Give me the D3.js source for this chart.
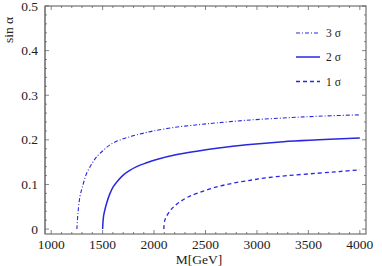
<!DOCTYPE html>
<html><head><meta charset="utf-8">
<script src="https://cdn.jsdelivr.net/npm/d3@7"></script>
<style>body{margin:0;background:#fff}svg{display:block}text{font-family:"Liberation Serif","DejaVu Serif",serif}</style>
</head><body>
<svg id="c" width="382" height="266"></svg>
<script>
const xTicks = [1000,1500,2000,2500,3000,3500,4000];
const yTicks = [0,0.1,0.2,0.3,0.4,0.5];
const yTickLabels = ["0","0.1","0.2","0.3","0.4","0.5"];
const seriesNames = ["3 σ","2 σ","1 σ"];
const sigma3 = [[1250,0],[1260,0.035],[1280,0.073],[1310,0.100],[1345,0.125],[1400,0.148],[1442,0.162],[1500,0.175],[1572,0.189],[1660,0.199],[1766,0.207],[1880,0.214],[1992,0.220],[2200,0.228],[2430,0.234],[2609,0.238],[2900,0.244],[3256,0.249],[3600,0.253],[4000,0.256]];
const sigma2 = [[1500,0],[1510,0.030],[1539,0.058],[1570,0.079],[1604,0.095],[1650,0.109],[1700,0.121],[1760,0.131],[1831,0.140],[1920,0.148],[2025,0.156],[2200,0.166],[2430,0.175],[2609,0.181],[2900,0.189],[3256,0.196],[3600,0.200],[4000,0.204]];
const sigma1 = [[2095,0],[2105,0.020],[2155,0.041],[2200,0.052],[2252,0.061],[2330,0.072],[2440,0.082],[2600,0.094],[2770,0.103],[2950,0.110],[3094,0.115],[3300,0.120],[3580,0.125],[3800,0.129],[4000,0.133]];

const svg = d3.select("#c");
const L=45,R=366,T=6,B=234;
const x = d3.scaleLinear().domain([940,4060]).range([L,R]);
const y = d3.scaleLinear().domain([-0.011,0.5]).range([B,T]);
const frameCol="#555";

// frame
svg.append("rect").attr("x",L).attr("y",T).attr("width",R-L).attr("height",B-T)
  .attr("fill","none").attr("stroke",frameCol).attr("stroke-width",1);
svg.append("line").attr("x1",L).attr("x2",L).attr("y1",T).attr("y2",B).attr("stroke","#888").attr("stroke-width",1.6);

// ticks
const g = svg.append("g").attr("stroke",frameCol).attr("stroke-width",0.7);
const xMinor = d3.range(1000,4001,100);
xMinor.forEach(v=>{
  const major = v%500===0; const len = major?4:2;
  g.append("line").attr("x1",x(v)).attr("x2",x(v)).attr("y1",B).attr("y2",B-len);
  g.append("line").attr("x1",x(v)).attr("x2",x(v)).attr("y1",T).attr("y2",T+len);
});
const yMinor = d3.range(0,51,2).map(d=>d/100);
yMinor.forEach((v,i)=>{
  const major = i%5===0; const len = major?4:2;
  g.append("line").attr("x1",L).attr("x2",L+len).attr("y1",y(v)).attr("y2",y(v));
  g.append("line").attr("x1",R).attr("x2",R-len).attr("y1",y(v)).attr("y2",y(v));
});

// tick labels
const fs=13.5;
svg.selectAll(".xl").data(xTicks).enter().append("text")
  .attr("x",d=>x(d)).attr("y",249).attr("text-anchor","middle").attr("font-size",fs).attr("fill","#222").text(d=>d);
svg.selectAll(".yl").data(yTicks).enter().append("text")
  .attr("x",38).attr("y",d=>y(d)+4.5).attr("text-anchor","end").attr("font-size",fs).attr("fill","#222").text((d,i)=>yTickLabels[i]);

svg.append("text").attr("x",199).attr("y",264).attr("text-anchor","middle").attr("font-size",fs).attr("fill","#222").text("M[GeV]");
svg.append("text").attr("transform","translate(13,30) rotate(-90)").attr("text-anchor","middle").attr("font-size",fs).attr("fill","#222").text("sin α");

// curves
const blue="#2828e0";
const line = d3.line().x(d=>x(d[0])).y(d=>y(d[1])).curve(d3.curveCatmullRom.alpha(0.5));
const styles=[{data:sigma3,dash:"4,2,1,2",w:1.1},{data:sigma2,dash:null,w:1.5},{data:sigma1,dash:"4,3",w:1.3}];
styles.forEach(s=>{
  svg.append("path").attr("d",line(s.data)).attr("fill","none").attr("stroke",blue)
    .attr("stroke-width",s.w).attr("stroke-dasharray",s.dash);
});

// legend
const ly=[33,57,81.5];
styles.forEach((s,i)=>{
  svg.append("line").attr("x1",296).attr("x2",320).attr("y1",ly[i]).attr("y2",ly[i])
    .attr("stroke",blue).attr("stroke-width",s.w).attr("stroke-dasharray",s.dash);
  svg.append("text").attr("x",326).attr("y",ly[i]+4).attr("font-size",11.5).attr("fill","#222").text(seriesNames[i]);
});
</script>
</body></html>
